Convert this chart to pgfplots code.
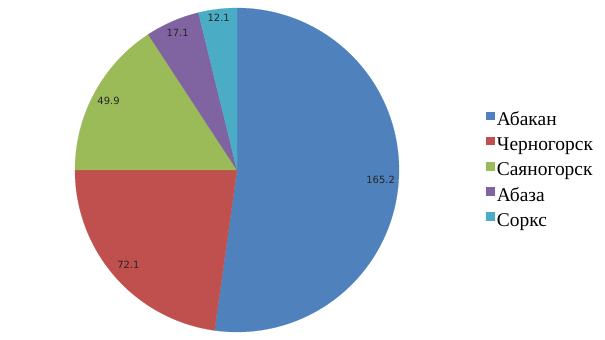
\documentclass[border=0pt]{standalone}
\usepackage{fontspec}
\setmainfont{Liberation Serif}
\newfontfamily\dejavu{DejaVu Sans}
\usepackage{pgfplots}
\usepackage{pgfplotstable}
\pgfplotsset{compat=1.18}
\definecolor{cA}{HTML}{4F81BD}
\definecolor{cB}{HTML}{C0504D}
\definecolor{cC}{HTML}{9BBB59}
\definecolor{cD}{HTML}{8064A2}
\definecolor{cE}{HTML}{4BACC6}
\pgfplotstableread{
value lr
165.2 144
72.1 144
49.9 146
17.1 149
12.1 153
}\piedata
\begin{document}
\begin{tikzpicture}
\pgfplotstablegetelem{0}{value}\of\piedata \edef\vA{\pgfplotsretval}
\pgfplotstablegetelem{1}{value}\of\piedata \edef\vB{\pgfplotsretval}
\pgfplotstablegetelem{2}{value}\of\piedata \edef\vC{\pgfplotsretval}
\pgfplotstablegetelem{3}{value}\of\piedata \edef\vD{\pgfplotsretval}
\pgfplotstablegetelem{4}{value}\of\piedata \edef\vE{\pgfplotsretval}
\pgfplotstablegetelem{0}{lr}\of\piedata \edef\rA{\pgfplotsretval}
\pgfplotstablegetelem{1}{lr}\of\piedata \edef\rB{\pgfplotsretval}
\pgfplotstablegetelem{2}{lr}\of\piedata \edef\rC{\pgfplotsretval}
\pgfplotstablegetelem{3}{lr}\of\piedata \edef\rD{\pgfplotsretval}
\pgfplotstablegetelem{4}{lr}\of\piedata \edef\rE{\pgfplotsretval}
\pgfmathsetmacro\T{\vA+\vB+\vC+\vD+\vE}
\pgfmathsetmacro\aA{90}
\pgfmathsetmacro\aB{\aA-360*(\vA/\T)}
\pgfmathsetmacro\aC{\aB-360*(\vB/\T)}
\pgfmathsetmacro\aD{\aC-360*(\vC/\T)}
\pgfmathsetmacro\aE{\aD-360*(\vD/\T)}
\pgfmathsetmacro\aF{\aE-360*(\vE/\T)}
\pgfmathsetmacro\mA{(\aA+\aB)/2}
\pgfmathsetmacro\mB{(\aB+\aC)/2}
\pgfmathsetmacro\mC{(\aC+\aD)/2}
\pgfmathsetmacro\mD{(\aD+\aE)/2}
\pgfmathsetmacro\mE{(\aE+\aF)/2}
\begin{axis}[
  width=605bp, height=340bp, scale only axis, hide axis,
  xmin=0, xmax=605, ymin=0, ymax=340, clip=false,
  legend cell align=left,
  legend image code/.code={\fill[#1] (0bp,2bp) rectangle (7.5bp,9.5bp);},
  legend style={at={(axis cs:486,168.5)}, anchor=west, draw=none, fill=none,
    inner sep=0pt, font=\fontsize{19.5}{22}\selectfont, row sep=6.3bp,
    nodes={inner sep=0pt, text height=13.5bp, text depth=5bp},
    /tikz/every odd column/.append style={column sep=3bp}},
]
\path (rel axis cs:0,0) rectangle (rel axis cs:1,1);
\addplot[fill=cA, draw=cA, line width=0.2bp, domain=\aB:\aA, samples=120, variable=\t]
  ({237+162*cos(\t)},{170+162*sin(\t)}) -- (axis cs:237,170) -- cycle;
\addlegendentry{Абакан}
\addplot[fill=cB, draw=cB, line width=0.2bp, domain=\aC:\aB, samples=60, variable=\t]
  ({237+162*cos(\t)},{170+162*sin(\t)}) -- (axis cs:237,170) -- cycle;
\addlegendentry{Черногорск}
\addplot[fill=cC, draw=cC, line width=0.2bp, domain=\aD:\aC, samples=50, variable=\t]
  ({237+162*cos(\t)},{170+162*sin(\t)}) -- (axis cs:237,170) -- cycle;
\addlegendentry{Саяногорск}
\addplot[fill=cD, draw=cD, line width=0.2bp, domain=\aE:\aD, samples=30, variable=\t]
  ({237+162*cos(\t)},{170+162*sin(\t)}) -- (axis cs:237,170) -- cycle;
\addlegendentry{Абаза}
\addplot[fill=cE, draw=cE, line width=0.2bp, domain=\aF:\aE, samples=30, variable=\t]
  ({237+162*cos(\t)},{170+162*sin(\t)}) -- (axis cs:237,170) -- cycle;
\addlegendentry{Соркс}
\tikzset{lbl/.style={font=\dejavu\fontsize{10}{12}\selectfont, text=black!85, inner sep=0pt}}
\node[lbl] at (axis cs:{237+\rA*cos(\mA)},{170+\rA*sin(\mA)}) {\vA};
\node[lbl] at (axis cs:{237+\rB*cos(\mB)},{170+\rB*sin(\mB)}) {\vB};
\node[lbl] at (axis cs:{237+\rC*cos(\mC)},{170+\rC*sin(\mC)}) {\vC};
\node[lbl] at (axis cs:{237+\rD*cos(\mD)},{170+\rD*sin(\mD)}) {\vD};
\node[lbl] at (axis cs:{237+\rE*cos(\mE)},{170+\rE*sin(\mE)}) {\vE};
\end{axis}
\end{tikzpicture}
\end{document}
